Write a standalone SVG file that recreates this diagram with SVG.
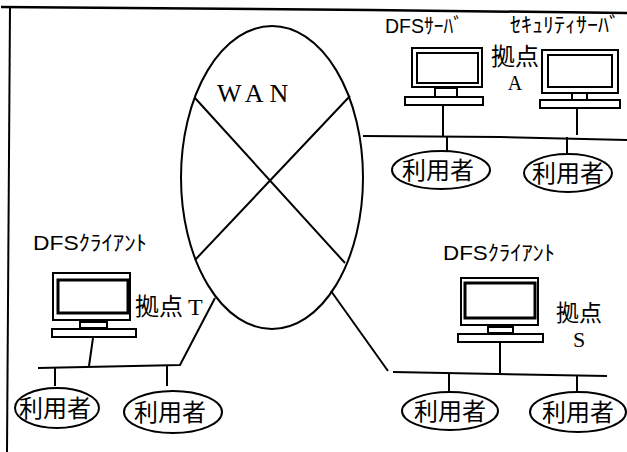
<svg xmlns="http://www.w3.org/2000/svg" width="627" height="452" viewBox="0 0 627 452">
<style>
.l{fill:none;stroke:#000;stroke-width:2}
.u{fill:#fff;stroke:#000;stroke-width:2}
.t{font-family:"Noto Sans CJK JP",sans-serif;fill:#000}
.jp{font-size:24px;text-anchor:middle}
.k{font-size:24px}
.s{font-family:"Liberation Serif",serif;fill:#000}
.c{font-family:"Liberation Sans","Noto Sans CJK JP",sans-serif;font-size:21px;fill:#000}
</style>
<rect width="627" height="452" fill="#fff"/>
<g id="connectors" class="l">
<path d="M1 7L370 10 627 13" stroke-width="2.5"/>
<path d="M10 7L7 452"/>
<path d="M363 136L500 137 627 140"/>
<path d="M443 105V136M577 108V135M447 136V152M567 137V155"/>
<path d="M38 368L180 365 215 298"/>
<path d="M93 338L89 366M55 368V386M167 365V386"/>
<path d="M393 372L607 376"/>
<path d="M500 342V373M449 373V392M577 375V392"/>
<path d="M331 291L388 371"/>
<path d="M195 98L345 263M195 260L350 96"/>
</g>
<g id="wan"><ellipse cx="272" cy="177.500" rx="91" ry="151.500" class="l"/><text x="217" y="102" class="s" font-size="26" letter-spacing="6">WAN</text></g>
<g id="a"><text x="385" y="33" class="c" textLength="78" lengthAdjust="spacingAndGlyphs">DFSｻｰﾊﾞ</text><text x="510" y="32" class="c" textLength="110" lengthAdjust="spacingAndGlyphs">ｾｷｭﾘﾃｨｻｰﾊﾞ</text><text x="515" y="65" class="t k" text-anchor="middle">拠点</text><text x="515" y="90" class="s" font-size="20" text-anchor="middle">A</text></g>
<g id="pc1" class="l"><rect x="412" y="48" width="70" height="39"/><rect x="417" y="53" width="61" height="30"/><rect x="435" y="88" width="22" height="9"/><rect x="405" y="97" width="78" height="8"/></g>
<g id="pc2" class="l"><rect x="542" y="50" width="76" height="43"/><rect x="548" y="55" width="64" height="32"/><rect x="572" y="93" width="15" height="7"/><rect x="540" y="100" width="80" height="8"/></g>
<g id="u1"><ellipse cx="441" cy="170" rx="49" ry="19" class="u"/><text x="438" y="179" class="t jp">利用者</text></g>
<g id="u2"><ellipse cx="568" cy="173" rx="44" ry="19" class="u"/><text x="568" y="182" class="t jp">利用者</text></g>
<g id="t"><text x="33" y="250" class="c" textLength="114" lengthAdjust="spacingAndGlyphs">DFSｸﾗｲｱﾝﾄ</text><text x="135" y="315" class="t k">拠点</text><text x="188" y="315" class="s" font-size="24">T</text></g>
<g id="pc3" class="l"><rect x="53" y="273" width="77" height="47"/><rect x="58" y="280" width="70" height="33" stroke-width="3"/><rect x="80" y="322" width="27" height="6"/><rect x="52" y="329" width="84" height="8"/></g>
<g id="u3"><ellipse cx="57" cy="408" rx="42" ry="20" class="u"/><text x="55" y="417" class="t jp">利用者</text></g>
<g id="u4"><ellipse cx="173" cy="412" rx="49" ry="21" class="u"/><text x="170" y="421" class="t jp">利用者</text></g>
<g id="s"><text x="443" y="260" class="c" textLength="112" lengthAdjust="spacingAndGlyphs">DFSｸﾗｲｱﾝﾄ</text><text x="579" y="321" class="t" font-size="23" text-anchor="middle">拠点</text><text x="579" y="347" class="s" font-size="22" text-anchor="middle">S</text></g>
<g id="pc4" class="l"><rect x="461" y="278" width="77" height="47"/><rect x="465" y="283" width="70" height="35" stroke-width="3"/><rect x="488" y="327" width="25" height="6"/><rect x="458" y="334" width="85" height="8"/></g>
<g id="u5"><ellipse cx="450" cy="411" rx="48" ry="19" class="u"/><text x="450" y="420" class="t jp">利用者</text></g>
<g id="u6"><ellipse cx="578" cy="412" rx="48" ry="20" class="u"/><text x="578" y="421" class="t jp">利用者</text></g>
</svg>
